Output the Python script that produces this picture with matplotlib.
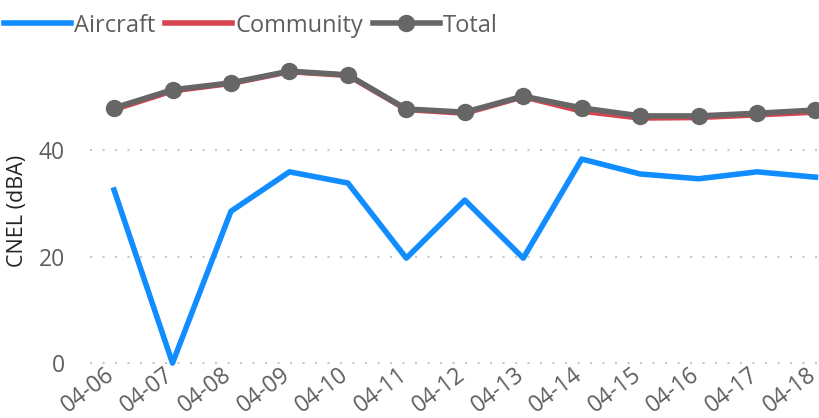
import numpy as np
import matplotlib
matplotlib.use('Agg')
import matplotlib.pyplot as plt
import matplotlib.transforms as mtransforms

plt.rcParams.update({
    "font.family": ["Open Sans", "DejaVu Sans"],
})

# daily CNEL values
dates = ['04-06', '04-07', '04-08', '04-09', '04-10', '04-11', '04-12',
         '04-13', '04-14', '04-15', '04-16', '04-17', '04-18']
aircraft = [32.5, 0.0, 28.5, 35.9, 33.8, 19.7, 30.6, 19.7, 38.3, 35.5, 34.6, 35.9, 34.9]
community = [47.6, 51.1, 52.5, 54.7, 54.0, 47.6, 46.9, 50.0, 47.3, 46.0, 46.1, 46.6, 47.1]
total = [47.9, 51.3, 52.6, 54.8, 54.1, 47.7, 47.1, 50.1, 47.9, 46.4, 46.4, 46.9, 47.5]

grey_txt = '#605E5C'

fig = plt.figure(figsize=(8.19, 4.18), dpi=100)
ax = fig.add_axes([0.110, 0.125, 0.890, 0.743])

x = np.arange(len(dates))
ax.plot(x, aircraft, color='#118DFF', linewidth=4, label='Aircraft', zorder=3)
ax.plot(x, community, color='#D64550', linewidth=4, label='Community', zorder=4)
ax.plot(x, total, color='#666666', linewidth=4, marker='o', markersize=11.5,
        label='Total', zorder=5)

ax.set_xlim(-0.41, 12.06)
ax.set_ylim(-0.5, 57.8)
ax.set_yticks([0, 20, 40])
ax.set_xticks(x)
ax.set_xticklabels(dates, rotation=37, ha='right', va='top', rotation_mode='anchor')
ax.tick_params(axis='both', length=0, labelsize=16.5, colors=grey_txt)
ax.tick_params(axis='x', pad=-2)
ax.tick_params(axis='y', pad=18)

# nudge the rotated date labels a bit to the left of their ticks
shift = mtransforms.ScaledTranslation(-0.09, 0, fig.dpi_scale_trans)
for lbl in ax.get_xticklabels():
    lbl.set_transform(lbl.get_transform() + shift)

ax.grid(True, axis='y', linestyle=(0, (1, 5)), color='#C8C8C8', linewidth=1.5)
for s in ax.spines.values():
    s.set_visible(False)

ax.set_ylabel('CNEL (dBA)', fontsize=15.5, color='#252423', labelpad=8)

fig.legend(loc='upper left', bbox_to_anchor=(-0.0215, 1.018), ncol=3, frameon=False,
           fontsize=17, labelcolor=grey_txt, handlelength=2.84, handletextpad=0.13,
           columnspacing=0.42)

fig.savefig('out.png', dpi=100)
